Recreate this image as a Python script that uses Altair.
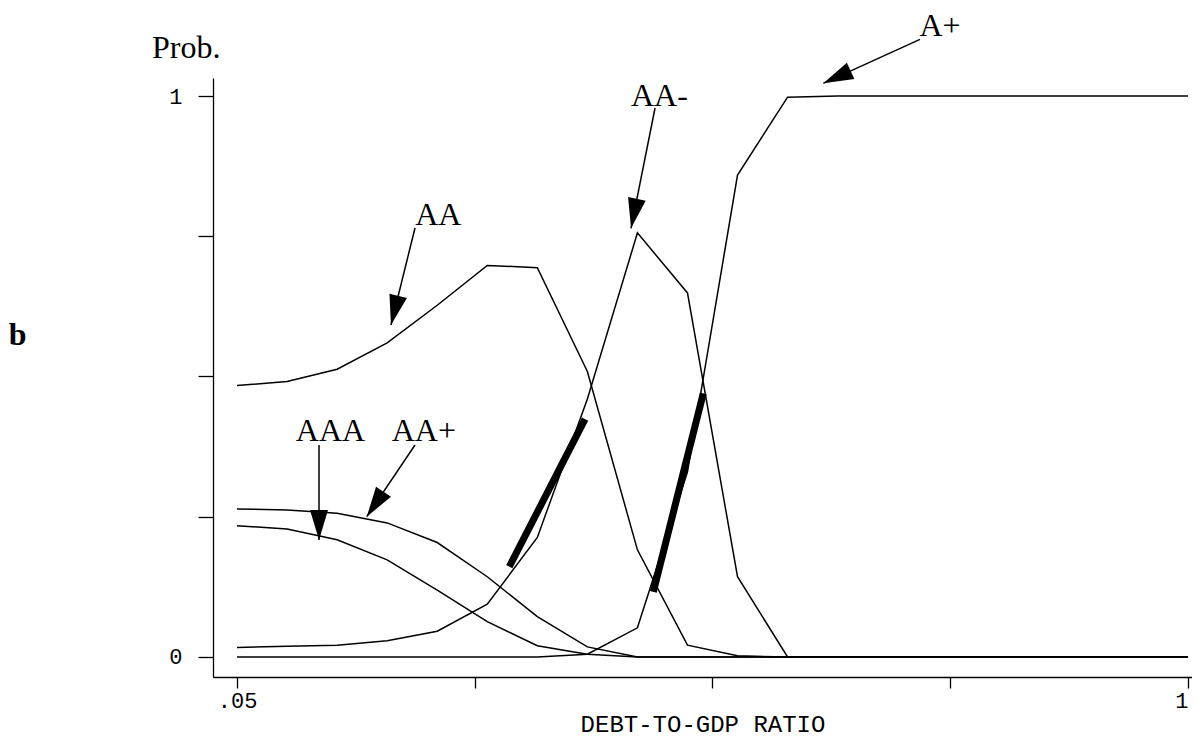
import math
import altair as alt
import pandas as pd

# ---------------- data ----------------
debt_ratio = [0.05, 0.10, 0.15, 0.20, 0.25, 0.30, 0.35, 0.40, 0.45, 0.50,
              0.55, 0.60, 0.65, 0.70, 0.75, 0.80, 0.85, 0.90, 0.95, 1.00]
p_AAA = [0.234, 0.228, 0.209, 0.173, 0.119, 0.063, 0.020, 0.005, 0.0, 0.0,
         0.0, 0.0, 0.0, 0.0, 0.0, 0.0, 0.0, 0.0, 0.0, 0.0]
p_AAplus = [0.264, 0.262, 0.256, 0.239, 0.204, 0.143, 0.072, 0.018, 0.0, 0.0,
            0.0, 0.0, 0.0, 0.0, 0.0, 0.0, 0.0, 0.0, 0.0, 0.0]
p_AA = [0.484, 0.491, 0.513, 0.560, 0.627, 0.698, 0.694, 0.509, 0.191, 0.021,
        0.002, 0.0, 0.0, 0.0, 0.0, 0.0, 0.0, 0.0, 0.0, 0.0]
p_AAminus = [0.017, 0.019, 0.021, 0.029, 0.046, 0.094, 0.213, 0.460, 0.756, 0.649,
             0.143, 0.0, 0.0, 0.0, 0.0, 0.0, 0.0, 0.0, 0.0, 0.0]
p_Aplus = [0.0, 0.0, 0.0, 0.0, 0.0, 0.0, 0.0, 0.005, 0.052, 0.330,
           0.859, 0.998, 1.0, 1.0, 1.0, 1.0, 1.0, 1.0, 1.0, 1.0]

# thick highlight segments (data units)
seg_x = [0.322, 0.4659]
seg_y = [0.161, 0.116]
seg_x2 = [0.3977, 0.5158]
seg_y2 = [0.424, 0.470]

# annotation labels (data units: centre x, baseline y)
lab_text = ["A+", "AA-", "AA", "AAA", "AA+"]
lab_x = [0.7523, 0.4719, 0.2511, 0.1434, 0.2366]
lab_y = [1.1070, 0.9822, 0.7701, 0.3850, 0.3850]
# arrows (start -> tip, data units)
arr_x = [0.7323, 0.4676, 0.2278, 0.1319, 0.2278]
arr_y = [1.1010, 0.9786, 0.7647, 0.3779, 0.3779]
arr_tx = [0.6357, 0.4436, 0.2038, 0.1319, 0.1796]
arr_ty = [1.0226, 0.7642, 0.5918, 0.2086, 0.2501]

x_ticks = [0.05, 0.2875, 0.525, 0.7625, 1.0]
y_ticks = [0.0, 0.25, 0.5, 0.75, 1.0]

# ---------------- frames ----------------
series = {"AAA": p_AAA, "AA+": p_AAplus, "AA": p_AA, "AA-": p_AAminus, "A+": p_Aplus}
rows = []
for name, vals in series.items():
    for xv, yv in zip(debt_ratio, vals):
        rows.append({"x": xv, "y": yv, "s": name})
curves = pd.DataFrame(rows)

segs = pd.DataFrame({"x": seg_x, "y": seg_y, "x2": seg_x2, "y2": seg_y2})

W, H = 979, 599
XMIN = 0.026
XMAX = XMIN + W / 1001.0
YMIN, YMAX = -0.0357, 1.0321
pxx = W / (XMAX - XMIN)
pxy = H / (YMAX - YMIN)

angles = []
for sx, sy, tx, ty in zip(arr_x, arr_y, arr_tx, arr_ty):
    dx = (tx - sx) * pxx
    dy = -(ty - sy) * pxy
    angles.append(math.degrees(math.atan2(dx, -dy)) % 360)

arrows = pd.DataFrame({"x": arr_x, "y": arr_y, "x2": arr_tx, "y2": arr_ty})
heads = pd.DataFrame({"x": arr_tx, "y": arr_ty, "angle": angles})
labels = pd.DataFrame({"x": lab_x, "y": lab_y, "t": lab_text})
prob = pd.DataFrame({"x": [-0.0349], "y": [1.0677], "t": ["Prob."]})
panel = pd.DataFrame({"x": [-0.178], "y": [0.5561], "t": ["b"]})

# ---------------- encodings ----------------
X = alt.X(
    "x:Q",
    scale=alt.Scale(domain=[XMIN, XMAX], nice=False, zero=False),
    axis=alt.Axis(
        values=x_ticks,
        labelExpr="datum.value == 0.05 ? '.05' : (datum.value == 1 ? '1' : '')",
        labelAlign={"condition": {"test": "datum.value == 1", "value": "right"},
                    "value": "center"},
        tickSize=11, tickColor="black", tickWidth=1.3,
        domainColor="black", domainWidth=1.3,
        labelFont="Liberation Mono", labelFontSize=22, labelColor="black",
        labelPadding=2, labelFlush=False, labelOverlap=False, labelBound=False,
        title="DEBT-TO-GDP RATIO", titleFont="Liberation Mono", titleFontSize=24,
        titleFontWeight="normal", titleColor="black", titlePadding=1,
        grid=False,
    ),
)
Y = alt.Y(
    "y:Q",
    scale=alt.Scale(domain=[YMIN, YMAX], nice=False, zero=False),
    axis=alt.Axis(
        values=y_ticks,
        labelExpr="datum.value == 0 ? '0' : (datum.value == 1 ? '1' : '')",
        tickSize=15, tickColor="black", tickWidth=1.3,
        domainColor="black", domainWidth=1.3,
        labelFont="Liberation Mono", labelFontSize=22, labelColor="black",
        labelPadding=16, labelOverlap=False,
        title=None, grid=False,
    ),
)

lines = alt.Chart(curves).mark_line(color="black", strokeWidth=1.5).encode(
    x=X, y=Y, detail="s:N"
)
thick = alt.Chart(segs).mark_rule(color="black", strokeWidth=7, strokeCap="butt").encode(
    x=X, y=Y, x2="x2:Q", y2="y2:Q"
)
arrow_lines = alt.Chart(arrows).mark_rule(color="black", strokeWidth=1.5).encode(
    x=X, y=Y, x2="x2:Q", y2="y2:Q"
)
arrow_heads = alt.Chart(heads).mark_point(
    filled=True, color="black", opacity=1, size=3600,
    shape="M0,0 L0.3,1 L-0.3,1 Z", strokeWidth=0,
).encode(x=X, y=Y, angle=alt.Angle("angle:Q", scale=None))
label_text = alt.Chart(labels).mark_text(
    font="Liberation Serif", fontSize=32, align="center", baseline="alphabetic", color="black"
).encode(x=X, y=Y, text="t:N")
prob_text = alt.Chart(prob).mark_text(
    font="Liberation Serif", fontSize=32, align="left", baseline="alphabetic", color="black"
).encode(x=X, y=Y, text="t:N")
panel_text = alt.Chart(panel).mark_text(
    font="Liberation Serif", fontSize=32, fontWeight="bold", align="left",
    baseline="alphabetic", color="black"
).encode(x=X, y=Y, text="t:N")

chart = alt.layer(
    lines, thick, arrow_lines, arrow_heads, label_text, prob_text, panel_text
).properties(
    width=W, height=H,
    padding={"left": 205, "top": 70, "right": 0, "bottom": 60},
    autosize="none",
    background="white",
).configure_view(stroke=None)

chart.save("out.html", embed_options={"renderer": "svg", "actions": False})
